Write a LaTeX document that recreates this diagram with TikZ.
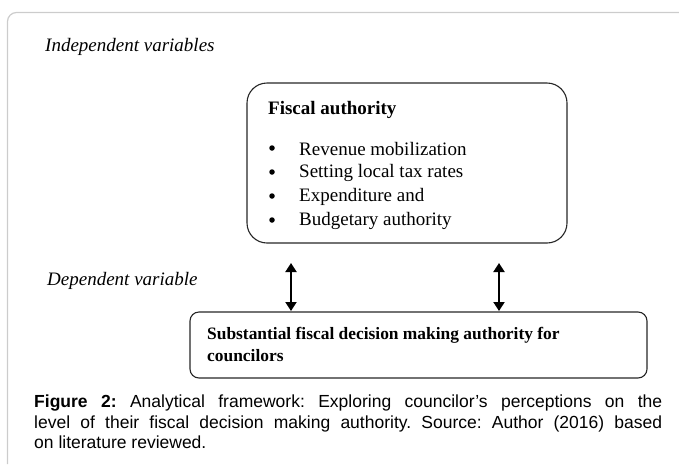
\documentclass[tikz,border=0pt]{standalone}
\usepackage{fontspec}
\setmainfont{Liberation Serif}
\newfontfamily\capfont{Liberation Sans}
\usetikzlibrary{arrows.meta}

\tikzset{
  varlabel/.style={anchor=west, inner sep=0pt, font=\fontsize{19}{22}\selectfont\itshape},
  boxtext/.style={anchor=west, inner sep=0pt, font=\fontsize{19}{22}\selectfont},
  bulletdot/.style={circle, fill=black, inner sep=0pt, minimum size=5.5pt},
  roundbox/.style={draw=black!85, line width=1.1pt, rounded corners=20pt},
  dblarrow/.style={line width=2pt, {Triangle[length=9pt,width=11pt]}-{Triangle[length=9pt,width=11pt]}},
}

\begin{document}
\begin{tikzpicture}[x=1pt, y=-1pt]
    \useasboundingbox (0,0) rectangle (679,464);
    \draw[black!20, line width=1.2pt, rounded corners=9pt] (7.5,464) |- (679,12.5);

    \node[varlabel] (indep) at (45,47)  {Independent variables};
    \node[varlabel] (dep)   at (47,281) {Dependent variable};

    \node[roundbox, minimum width=320pt, minimum height=160pt] (fiscal) at (407,163) {};
    \node[boxtext, font=\fontsize{19}{22}\selectfont\bfseries] (title) at (268,110) {Fiscal authority};
    \foreach \txt [count=\i] in {Revenue mobilization, Setting local tax rates, Expenditure and, Budgetary authority} {
        \node[bulletdot] (dot\i)  at (272,124+24*\i) {};
        \node[boxtext] (item\i) at (299,125+24*\i) {\txt};
    }

    \node[roundbox, rounded corners=9pt, minimum width=457pt, minimum height=66pt] (outcome) at (418.5,345) {};
    \node[boxtext, align=left, font=\fontsize{17.4}{22}\selectfont\bfseries] (outtext) at (207,344)
        {Substantial fiscal decision making authority for\\councilors};

    % both links run both ways
    \coordinate (up1) at (291,263);
    \coordinate (dn1) at (291,311);
    \coordinate (up2) at (499,263);
    \coordinate (dn2) at (499,311);
    \draw[dblarrow] (up1) -- (dn1);
    \draw[dblarrow] (up2) -- (dn2);

    \node[anchor=north west, inner sep=0pt, text width=628pt, align=justify,
          font=\capfont\fontsize{17.5}{20.5}\selectfont\frenchspacing] (caption) at (34,395)
        {\textbf{Figure 2:} Analytical framework: Exploring councilor’s perceptions on the\linebreak
         level of their fiscal decision making authority. Source: Author (2016) based\linebreak
         on literature reviewed.};
\end{tikzpicture}
\end{document}
